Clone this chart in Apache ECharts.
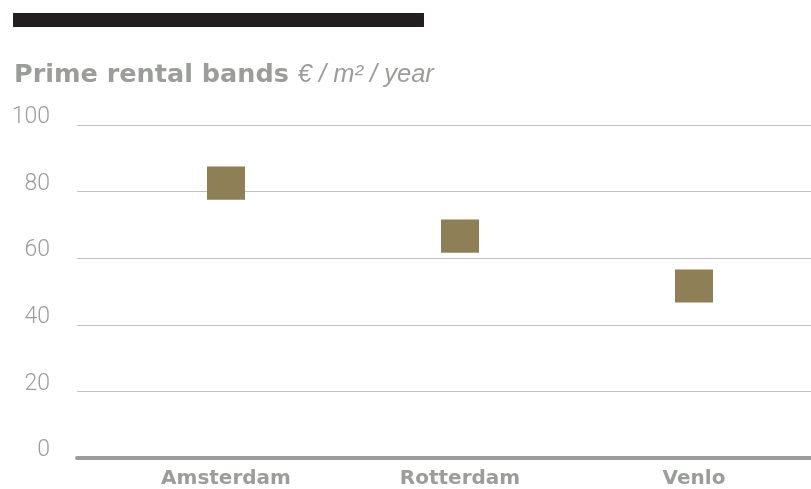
<!DOCTYPE html>
<html>
<head>
<meta charset="utf-8">
<script src="https://cdn.jsdelivr.net/npm/echarts@6/dist/echarts.min.js"></script>
<style>
  html, body { margin: 0; padding: 0; background: #ffffff; }
  #chart { width: 811px; height: 489px; }
</style>
</head>
<body>
<div id="chart"></div>
<script>
// Prime rental bands per location, € / m² / year
const cities = ['Amsterdam', 'Rotterdam', 'Venlo'];
const bandLow = [77.5, 61.5, 46.5];
const bandHigh = [87.5, 71.5, 56.5];
const yTicks = [0, 20, 40, 60, 80, 100];

const GREY = '#9b9d9a';
const BAND = '#8f7f57';

const chart = echarts.init(document.getElementById('chart'), null, { renderer: 'canvas' });

chart.setOption({
  animation: false,
  backgroundColor: '#ffffff',
  title: {
    left: 9,
    top: 54,
    text: '{b|Prime rental bands}{i|€ / m² / year}',
    textStyle: {
      rich: {
        b: { fontFamily: 'DejaVu Sans', fontWeight: 'bold', fontSize: 25.5, color: GREY, lineHeight: 32 },
        i: {
          fontFamily: 'Liberation Sans', fontStyle: 'italic', fontWeight: 'normal', fontSize: 25.5,
          color: GREY, lineHeight: 32, padding: [0, 0, 0, 9]
        }
      }
    }
  },
  graphic: [
    { type: 'rect', left: 13, top: 13, shape: { width: 411, height: 14 }, style: { fill: '#231f20' } }
  ],
  grid: [
    { left: 77, right: 0, top: 125, bottom: 31 },
    { left: 109, width: 711, top: 125, bottom: 31 }
  ],
  xAxis: [
    {
      type: 'category', gridIndex: 0, data: cities,
      axisLine: { lineStyle: { color: '#9c9e9b', width: 4 } },
      axisTick: { show: false }, axisLabel: { show: false }, splitLine: { show: false }
    },
    {
      type: 'category', gridIndex: 1, data: cities,
      axisLine: { show: false }, axisTick: { show: false },
      axisLabel: {
        margin: 12, color: GREY, fontFamily: 'DejaVu Sans', fontWeight: 'bold', fontSize: 20
      }
    }
  ],
  yAxis: [
    {
      type: 'value', gridIndex: 0, min: yTicks[0], max: yTicks[yTicks.length - 1], interval: 20,
      axisLine: { show: false }, axisTick: { show: false },
      splitLine: { lineStyle: { color: '#c2c2c2', width: 1 } },
      axisLabel: {
        margin: 27, color: '#9d9d9d', fontFamily: 'Roboto', fontWeight: 300, fontSize: 23,
        verticalAlign: 'bottom', lineHeight: 15
      }
    },
    {
      type: 'value', gridIndex: 1, min: yTicks[0], max: yTicks[yTicks.length - 1],
      show: false, splitLine: { show: false }
    }
  ],
  series: [
    {
      type: 'custom',
      xAxisIndex: 1, yAxisIndex: 1,
      data: cities.map((c, i) => [i, bandLow[i], bandHigh[i]]),
      encode: { x: 0, y: [1, 2] },
      renderItem: function (params, api) {
        const lo = api.coord([api.value(0), api.value(1)]);
        const hi = api.coord([api.value(0), api.value(2)]);
        const w = 38;
        return {
          type: 'rect',
          shape: { x: lo[0] - w / 2, y: hi[1], width: w, height: lo[1] - hi[1] },
          style: { fill: BAND }
        };
      }
    }
  ]
});
</script>
</body>
</html>
